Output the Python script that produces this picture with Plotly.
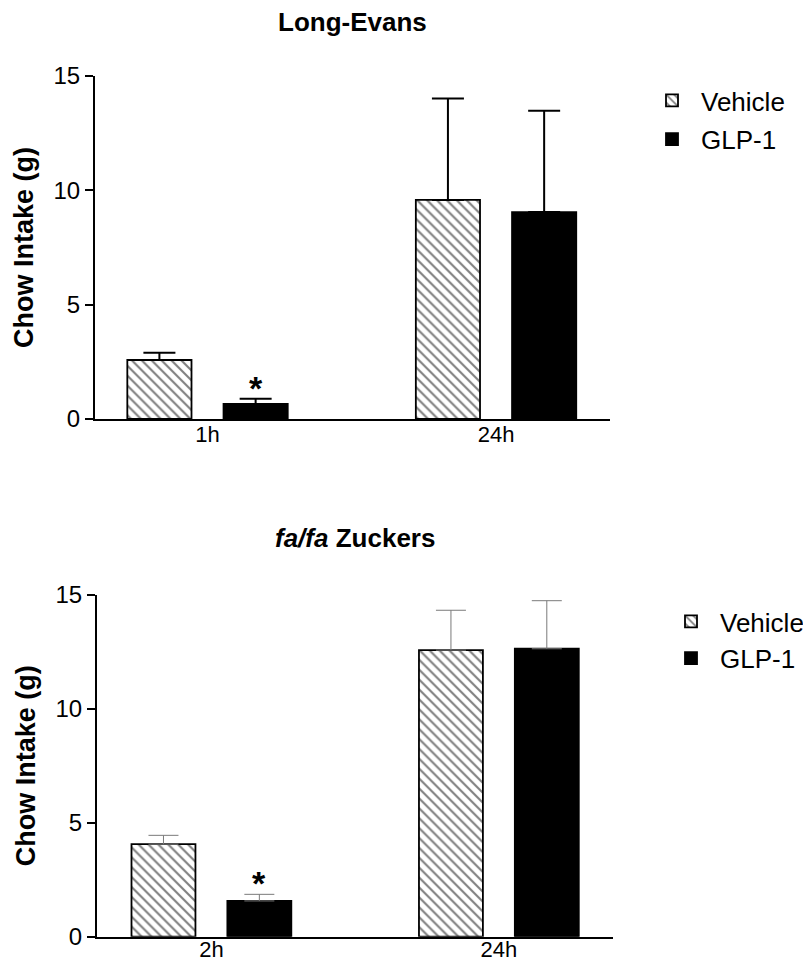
import plotly.graph_objects as go

# ---------------- data ----------------
groups = ["Vehicle", "GLP-1"]

times_top = ["1h", "24h"]
vehicle_top = [2.58, 9.58]
vehicle_top_sem = [0.32, 4.44]
glp_top = [0.66, 9.05]
glp_top_sem = [0.23, 4.43]
sig_top = ["*", ""]

times_bot = ["2h", "24h"]
vehicle_bot = [4.06, 12.58]
vehicle_bot_sem = [0.39, 1.75]
glp_bot = [1.57, 12.64]
glp_bot_sem = [0.29, 2.11]
sig_bot = ["*", ""]

y_ticks = [0, 5, 10, 15]

FONT = "Liberation Sans, Arial, sans-serif"
# the page body has an 8px margin, so the figure is a little smaller than the window
OFF = 8
W, H = 811 - OFF, 962 - OFF


def px(X):
    return (X - OFF) / W


def py(Y):
    return 1 - (Y - OFF) / H


fig = go.Figure()

hatch = dict(shape="\\", size=7, solidity=0.3, fgcolor="black", bgcolor="white", fillmode="overlay")


def add_panel(times, veh, veh_sem, glp, glp_sem, xa, ya, legend, err_color, err_thick, err_w):
    fig.add_trace(go.Bar(
        x=times, y=veh, name=groups[0], xaxis=xa, yaxis=ya, legend=legend,
        legendgroup=legend + "v",
        marker=dict(color="white", pattern=hatch, line=dict(color="black", width=1.8)),
        error_y=dict(type="data", array=veh_sem, arrayminus=[0] * len(veh_sem), symmetric=False,
                     color=err_color, thickness=err_thick, width=err_w),
    ))
    fig.add_trace(go.Bar(
        x=times, y=glp, name=groups[1], xaxis=xa, yaxis=ya, legend=legend,
        legendgroup=legend + "g",
        marker=dict(color="black", line=dict(color="black", width=1.8)),
        error_y=dict(type="data", array=glp_sem, arrayminus=[0] * len(glp_sem), symmetric=False,
                     color=err_color, thickness=err_thick, width=err_w),
    ))


add_panel(times_top, vehicle_top, vehicle_top_sem, glp_top, glp_top_sem,
          "x", "y", "legend", "black", 2, 16)
add_panel(times_bot, vehicle_bot, vehicle_bot_sem, glp_bot, glp_bot_sem,
          "x2", "y2", "legend2", "#7a7a7a", 1, 15)

# significance asterisks
for times, glp, sem, sig, xr, yr in [
    (times_top, glp_top, glp_top_sem, sig_top, "x", "y"),
    (times_bot, glp_bot, glp_bot_sem, sig_bot, "x2", "y2"),
]:
    for t, v, s, mark in zip(times, glp, sem, sig):
        if mark:
            fig.add_annotation(x=t, y=v + s, xref=xr, yref=yr, text="<b>" + mark + "</b>",
                               showarrow=False, xshift=48, yshift=-10, yanchor="bottom",
                               font=dict(family=FONT, size=34, color="black"))

# panel titles
fig.add_annotation(x=0.5, y=1, xref="x domain", yref="y domain", text="<b>Long-Evans</b>",
                   showarrow=False, yanchor="bottom", yshift=37,
                   font=dict(family=FONT, size=26, color="black"))
fig.add_annotation(x=0.5, y=1, xref="x2 domain", yref="y2 domain",
                   text="<b><i>fa/fa</i> Zuckers</b>",
                   showarrow=False, yanchor="bottom", yshift=40,
                   font=dict(family=FONT, size=26, color="black"))

xcommon = dict(type="category", showline=True, linecolor="black", linewidth=2, ticks="",
               showgrid=False, zeroline=False,
               tickfont=dict(family=FONT, size=22, color="black"))
ycommon = dict(range=[0, 15], tickvals=y_ticks, showline=True, linecolor="black", linewidth=2,
               ticks="outside", ticklen=8, tickwidth=2, tickcolor="black", showgrid=False,
               zeroline=False, tickfont=dict(family=FONT, size=24, color="black"),
               title=dict(text="<b>Chow Intake (g)</b>", font=dict(family=FONT, size=27, color="black"),
                          standoff=12))

fig.update_layout(
    width=W, height=H,
    margin=dict(l=0, r=0, t=0, b=0, autoexpand=False),
    paper_bgcolor="white", plot_bgcolor="white",
    barmode="group", bargap=0.333, bargroupgap=0.333,
    xaxis=dict(domain=[px(95), px(610)], range=[-0.39, 1.395], anchor="y",
               ticklabelstandoff=-5, **xcommon),
    yaxis=dict(domain=[py(419), py(76)], anchor="x", **ycommon),
    xaxis2=dict(domain=[px(97), px(613)], range=[-0.398, 1.397], anchor="y2",
                ticklabelstandoff=-8, **xcommon),
    yaxis2=dict(domain=[py(936.7), py(595)], anchor="x2", **ycommon),
    legend=dict(x=px(643), y=py(77), xanchor="left", yanchor="top", bgcolor="rgba(0,0,0,0)",
                font=dict(family=FONT, size=26, color="black"), traceorder="grouped",
                tracegroupgap=2, itemwidth=48),
    legend2=dict(x=px(662), y=py(598), xanchor="left", yanchor="top", bgcolor="rgba(0,0,0,0)",
                 font=dict(family=FONT, size=26, color="black"), traceorder="grouped",
                 tracegroupgap=0, itemwidth=48),
    showlegend=True,
)

fig.write_html("out.html")
